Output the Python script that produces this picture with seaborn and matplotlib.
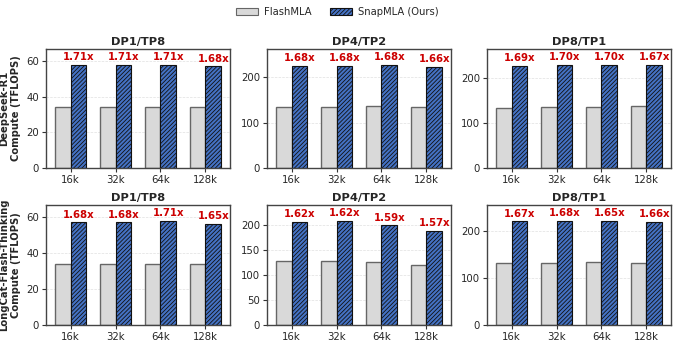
import numpy as np
import pandas as pd
import matplotlib
matplotlib.use("Agg")
import matplotlib.pyplot as plt
from matplotlib.patches import Patch
from matplotlib.ticker import MultipleLocator
import seaborn as sns

contexts = ["16k", "32k", "64k", "128k"]
configs = ["DP1/TP8", "DP4/TP2", "DP8/TP1"]
models = ["DeepSeek-R1", "LongCat-Flash-Thinking"]
methods = ["FlashMLA", "SnapMLA (Ours)"]

# FlashMLA TFLOPS
flash_r1_dp1 = [34.0, 34.0, 34.0, 34.0]
flash_r1_dp4 = [134.0, 134.0, 135.8, 134.2]
flash_r1_dp8 = [134.2, 135.6, 135.6, 137.2]
flash_lc_dp1 = [34.0, 34.0, 34.0, 34.0]
flash_lc_dp4 = [127.3, 128.4, 124.9, 119.5]
flash_lc_dp8 = [131.8, 131.8, 134.3, 131.7]

# SnapMLA TFLOPS
snap_r1_dp1 = [58.1, 58.1, 58.1, 57.1]
snap_r1_dp4 = [225.1, 225.1, 228.1, 222.8]
snap_r1_dp8 = [226.8, 230.5, 230.5, 229.1]
snap_lc_dp1 = [57.1, 57.1, 58.1, 56.1]
snap_lc_dp4 = [206.2, 208.0, 198.6, 187.6]
snap_lc_dp8 = [220.1, 221.4, 221.6, 218.6]

# speedup labels
speed_r1_dp1 = ["1.71x", "1.71x", "1.71x", "1.68x"]
speed_r1_dp4 = ["1.68x", "1.68x", "1.68x", "1.66x"]
speed_r1_dp8 = ["1.69x", "1.70x", "1.70x", "1.67x"]
speed_lc_dp1 = ["1.68x", "1.68x", "1.71x", "1.65x"]
speed_lc_dp4 = ["1.62x", "1.62x", "1.59x", "1.57x"]
speed_lc_dp8 = ["1.67x", "1.68x", "1.65x", "1.66x"]

# y tick steps per panel
ytick_step = [[20, 100, 100], [20, 50, 100]]

flash = [[flash_r1_dp1, flash_r1_dp4, flash_r1_dp8],
         [flash_lc_dp1, flash_lc_dp4, flash_lc_dp8]]
snap = [[snap_r1_dp1, snap_r1_dp4, snap_r1_dp8],
        [snap_lc_dp1, snap_lc_dp4, snap_lc_dp8]]
speed = [[speed_r1_dp1, speed_r1_dp4, speed_r1_dp8],
         [speed_lc_dp1, speed_lc_dp4, speed_lc_dp8]]

sns.set_theme(style="ticks")
plt.rcParams["font.family"] = ["DejaVu Sans"]
plt.rcParams["hatch.linewidth"] = 0.6

FLASH_C = "#d9d9d9"
SNAP_C = "#4472c4"
HATCH = "////////"

W, H = 674, 342
fig = plt.figure(figsize=(W / 100, H / 100), dpi=100)

lefts = [46, 267, 487]
aw = 184
rows = [(49, 168), (205, 325)]

for r in range(2):
    for c in range(3):
        top, bot = rows[r]
        ax = fig.add_axes([lefts[c] / W, (H - bot) / H, aw / W, (bot - top) / H])
        df = pd.DataFrame({
            "ctx": contexts * 2,
            "method": [methods[0]] * 4 + [methods[1]] * 4,
            "val": list(flash[r][c]) + list(snap[r][c]),
        })
        sns.barplot(data=df, x="ctx", y="val", hue="method", order=contexts,
                    hue_order=methods, palette=[FLASH_C, SNAP_C], width=0.7,
                    legend=False, ax=ax, saturation=1)
        bars = ax.patches
        for i, p in enumerate(bars):
            if i < 4:
                p.set_edgecolor("#666666")
                p.set_linewidth(1.0)
            else:
                p.set_edgecolor("#111111")
                p.set_linewidth(0.8)
                p.set_hatch(HATCH)
        for i in range(4):
            p = bars[4 + i]
            ax.annotate(speed[r][c][i],
                        (p.get_x() + p.get_width() / 2, p.get_height()),
                        xytext=(0, 2), textcoords="offset points",
                        ha="center", va="bottom", fontsize=7.3,
                        fontweight="bold", color="#cc0000")
        ymax = max(snap[r][c]) * 1.15
        ax.set_ylim(0, ymax)
        ax.set_xlim(-0.55, 3.55)
        ax.yaxis.set_major_locator(MultipleLocator(ytick_step[r][c]))
        ax.set_title(configs[c], fontsize=8.2, fontweight="bold", pad=3)
        ax.set_xlabel("")
        if c == 0:
            ax.set_ylabel(models[r] + "\nCompute (TFLOPS)", fontsize=7.2,
                          fontweight="bold", labelpad=4)
        else:
            ax.set_ylabel("")
        ax.tick_params(axis="both", labelsize=7.3, length=3, width=0.8,
                       pad=2, color="#333333")
        ax.yaxis.grid(True, linestyle="--", linewidth=0.5, color="#cccccc", alpha=0.6)
        ax.set_axisbelow(True)
        for s in ax.spines.values():
            s.set_color("#444444")
            s.set_linewidth(1.0)
            s.set_visible(True)

handles = [Patch(facecolor=FLASH_C, edgecolor="#666666", linewidth=0.8, label=methods[0]),
           Patch(facecolor=SNAP_C, edgecolor="#111111", linewidth=0.8, hatch=HATCH,
                 label=methods[1])]
fig.legend(handles=handles, loc="center", bbox_to_anchor=(0.5, 1 - 12 / H),
           ncol=2, frameon=False, fontsize=7.2, handlelength=2.2,
           handleheight=0.8, columnspacing=1.8, handletextpad=0.6)

fig.savefig("out.png", dpi=100)
